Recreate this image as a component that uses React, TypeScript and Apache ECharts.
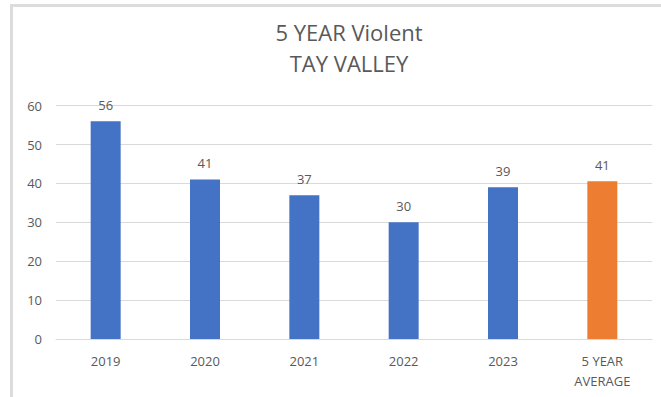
import React, { useEffect, useRef } from "react";
import * as echarts from "echarts";

const categories = ["2019", "2020", "2021", "2022", "2023", "5 YEAR\nAVERAGE"];
const values = [56, 41, 37, 30, 39, 40.6];
const barColors = ["#4472C4", "#4472C4", "#4472C4", "#4472C4", "#4472C4", "#ED7D31"];
const titleLines = ["5 YEAR Violent", "TAY VALLEY"];

const FONT = "'Open Sans', sans-serif";
const TEXT = "#595959";

export default function App() {
  const ref = useRef<HTMLDivElement>(null);
  useEffect(() => {
    document.body.style.margin = "0";
    const chart = echarts.init(ref.current!, null, { renderer: "svg" });
    chart.setOption({
      animation: false,
      backgroundColor: "#ffffff",
      graphic: [
        {
          type: "rect",
          shape: { x: 11.5, y: 5.5, width: 700, height: 500 },
          style: { fill: "none", stroke: "#dcdcdc", lineWidth: 3 },
        },
        {
          type: "text",
          x: 349,
          y: 32,
          style: {
            text: titleLines[0],
            fill: TEXT,
            font: `22px ${FONT}`,
            textAlign: "center",
            textVerticalAlign: "middle",
          },
        },
        {
          type: "text",
          x: 349,
          y: 63,
          style: {
            text: titleLines[1],
            fill: TEXT,
            font: `22px ${FONT}`,
            textAlign: "center",
            textVerticalAlign: "middle",
          },
        },
      ],
      grid: { left: 56, right: 9, top: 105.7, bottom: 58, containLabel: false },
      xAxis: {
        type: "category",
        data: categories,
        axisLine: { lineStyle: { color: "#d9d9d9", width: 1 } },
        axisTick: { show: false },
        axisLabel: {
          color: TEXT,
          fontFamily: FONT,
          fontSize: 13,
          lineHeight: 20,
          margin: 12,
          interval: 0,
        },
      },
      yAxis: {
        type: "value",
        min: 0,
        max: 60,
        interval: 10,
        axisLine: { show: false },
        axisTick: { show: false },
        splitLine: { lineStyle: { color: "#d9d9d9", width: 1 } },
        axisLabel: { color: TEXT, fontFamily: FONT, fontSize: 13, margin: 14 },
      },
      series: [
        {
          type: "bar",
          barWidth: 30,
          data: values.map((v, i) => ({ value: v, itemStyle: { color: barColors[i] } })),
          label: {
            show: true,
            position: "top",
            distance: 10,
            color: TEXT,
            fontFamily: FONT,
            fontSize: 13,
            formatter: (p: any) => String(Math.round(p.value)),
          },
        },
      ],
    });
    return () => chart.dispose();
  }, []);
  return (
    <div
      ref={ref}
      style={{ position: "absolute", left: 0, top: 0, width: 661, height: 397 }}
    />
  );
}
